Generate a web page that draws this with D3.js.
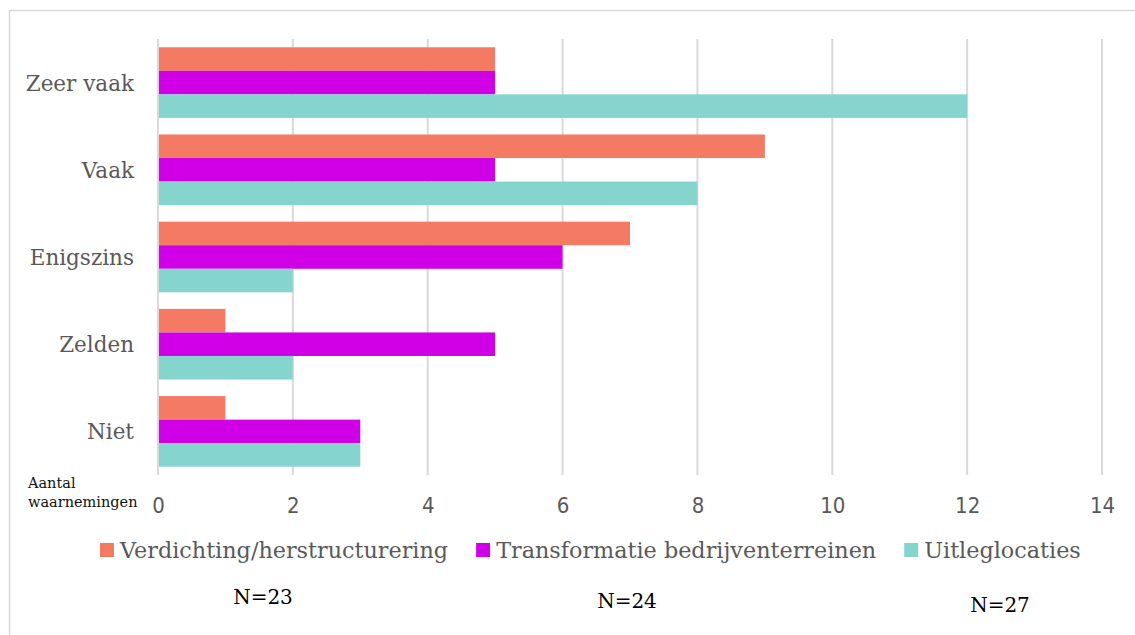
<!DOCTYPE html>
<html>
  <head>
    <meta charset="utf-8">
    <script src="https://cdn.jsdelivr.net/npm/d3@7"></script>
    <style>
      body { margin: 0; background: #fff; }
      .tick text { font-family: "Liberation Sans Narrow", "Arial Narrow", "DejaVu Sans Condensed", sans-serif; font-stretch: condensed; }
    </style>
  </head>
  <body>
    <script>
      // categories (top to bottom) and series
      var categories = ["Zeer vaak", "Vaak", "Enigszins", "Zelden", "Niet"];
      var seriesNames = ["Verdichting/herstructurering", "Transformatie bedrijventerreinen", "Uitleglocaties"];
      var verdichting = [5, 9, 7, 1, 1];
      var transformatie = [5, 5, 6, 5, 3];
      var uitleg = [12, 8, 2, 2, 3];
      var xTicks = [0, 2, 4, 6, 8, 10, 12, 14];
      var colors = ["#F47A63", "#D000E6", "#86D4CE"];

      var allSeries = [verdichting, transformatie, uitleg];

      var width = 1135, height = 635;
      var svg = d3.select("body").append("svg")
        .attr("width", width)
        .attr("height", height);

      // outer frame
      svg.append("rect")
        .attr("x", 9.5).attr("y", 10.5)
        .attr("width", 1300).attr("height", 800)
        .attr("fill", "none")
        .attr("stroke", "#d9d9d9")
        .attr("stroke-width", 1.5);

      var xScale = d3.scaleLinear().domain([0, 14]).range([158, 1102]);

      var yScale = d3.scaleBand()
        .domain(categories)
        .range([39, 475])
        .paddingInner(0.19)
        .paddingOuter(0.095);

      var ySub = d3.scaleBand()
        .domain(d3.range(seriesNames.length))
        .range([0, yScale.bandwidth()]);

      // gridlines
      svg.selectAll("line.grid")
        .data(xTicks)
        .enter()
        .append("line")
        .attr("class", "grid")
        .attr("x1", function(d) { return xScale(d); })
        .attr("x2", function(d) { return xScale(d); })
        .attr("y1", 39)
        .attr("y2", 475)
        .attr("stroke", "#d9d9d9")
        .attr("stroke-width", 2);

      // bars
      var rows = [];
      categories.forEach(function(c, i) {
        allSeries.forEach(function(s, j) {
          rows.push({cat: c, s: j, value: s[i]});
        });
      });

      svg.selectAll("rect.bar")
        .data(rows)
        .enter()
        .append("rect")
        .attr("class", "bar")
        .attr("x", xScale(0) + 1)
        .attr("y", function(d) { return yScale(d.cat) + ySub(d.s); })
        .attr("width", function(d) { return xScale(d.value) - xScale(0) - 1; })
        .attr("height", ySub.bandwidth())
        .attr("fill", function(d) { return colors[d.s]; });

      // x axis
      var xAxis = svg.append("g")
        .attr("transform", "translate(0,475)")
        .call(d3.axisBottom(xScale).tickValues(xTicks).tickSize(0).tickPadding(22));
      xAxis.select(".domain").remove();
      xAxis.selectAll("text")
        .attr("fill", "#595959")
        .style("font-size", "22px");

      // category labels
      svg.selectAll("text.cat")
        .data(categories)
        .enter()
        .append("text")
        .attr("class", "cat")
        .attr("x", 134)
        .attr("y", function(d) { return yScale(d) + yScale.bandwidth() / 2 + 8; })
        .attr("text-anchor", "end")
        .attr("fill", "#595959")
        .style("font-family", "DejaVu Serif, serif")
        .style("font-size", "21.5px")
        .text(function(d) { return d; });

      // axis title
      var axTitle = svg.append("text")
        .attr("x", 28)
        .attr("fill", "#111")
        .style("font-family", "DejaVu Serif, serif")
        .style("font-size", "14.5px");
      axTitle.append("tspan").attr("x", 28).attr("y", 488).text("Aantal");
      axTitle.append("tspan").attr("x", 28).attr("y", 507).text("waarnemingen");

      // legend
      var legX = 100;
      seriesNames.forEach(function(name, i) {
        var g = svg.append("g").attr("transform", "translate(" + legX + ",543)");
        g.append("rect")
          .attr("width", 14).attr("height", 14)
          .attr("fill", colors[i]);
        var t = g.append("text")
          .attr("x", 20).attr("y", 15)
          .attr("fill", "#595959")
          .style("font-family", "DejaVu Serif, serif")
          .style("font-size", "22.3px")
          .text(name);
        legX += 20 + t.node().getComputedTextLength() + 28;
      });

      // N per series
      var nPos = [[263, 604], [627, 608], [1000, 612]];
      allSeries.forEach(function(s, i) {
        svg.append("text")
          .attr("x", nPos[i][0])
          .attr("y", nPos[i][1])
          .attr("text-anchor", "middle")
          .attr("fill", "#000")
          .style("font-family", "DejaVu Serif, serif")
          .style("font-size", "20px")
          .text("N=" + d3.sum(s));
      });
    </script>
  </body>
</html>
